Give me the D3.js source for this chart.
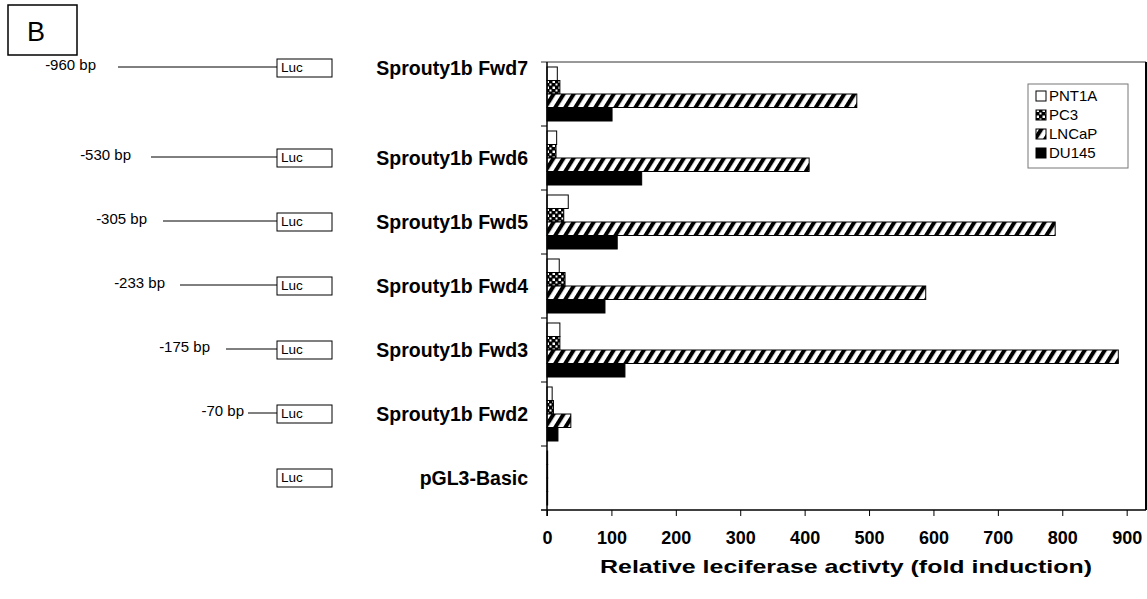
<!DOCTYPE html>
<html>
<head>
<meta charset="utf-8">
<script src="https://cdn.jsdelivr.net/npm/d3@7"></script>
<style>
  html, body { margin: 0; padding: 0; background: #fff; }
  svg { display: block; }
  text { font-family: Arial, "Liberation Sans", sans-serif; fill: #000; }
</style>
</head>
<body>
<svg id="chart" width="1147" height="599"></svg>
<script>
// Promoter constructs, top to bottom
const constructs = ["Sprouty1b Fwd7", "Sprouty1b Fwd6", "Sprouty1b Fwd5", "Sprouty1b Fwd4",
                    "Sprouty1b Fwd3", "Sprouty1b Fwd2", "pGL3-Basic"];
const promoterLengths = ["-960 bp", "-530 bp", "-305 bp", "-233 bp", "-175 bp", "-70 bp", ""];

// Cell lines and their fold induction for each construct
const cellLines = ["PNT1A", "PC3", "LNCaP", "DU145"];
const pnt1a = [16, 15, 33, 19, 20, 8, 1];
const pc3   = [20, 14, 26, 28, 20, 10, 1];
const lncap = [481, 407, 789, 588, 887, 37, 1];
const du145 = [101, 147, 109, 90, 121, 17, 1];
const xTicks = [0, 100, 200, 300, 400, 500, 600, 700, 800, 900];

const seriesValues = [pnt1a, pc3, lncap, du145];

const svg = d3.select("#chart");
const plot = { left: 547, right: 1146, top: 62, bottom: 510 };

// Fill patterns for each cell line
const defs = svg.append("defs");
const checker = defs.append("pattern").attr("id", "pat-pc3")
  .attr("patternUnits", "userSpaceOnUse").attr("width", 6).attr("height", 6);
checker.append("rect").attr("width", 6).attr("height", 6).attr("fill", "#000");
checker.append("rect").attr("x", 0.5).attr("y", 0.5).attr("width", 2.5).attr("height", 2.5).attr("fill", "#fff");
checker.append("rect").attr("x", 3.5).attr("y", 3.5).attr("width", 2).attr("height", 2).attr("fill", "#fff");

const stripes = defs.append("pattern").attr("id", "pat-lncap")
  .attr("patternUnits", "userSpaceOnUse").attr("width", 8.5).attr("height", 8.5)
  .attr("patternTransform", "rotate(32)");
stripes.append("rect").attr("width", 8.5).attr("height", 8.5).attr("fill", "#fff");
stripes.append("rect").attr("width", 4).attr("height", 8.5).attr("fill", "#000");

const fills = ["#fff", "url(#pat-pc3)", "url(#pat-lncap)", "#000"];

// Scales
const x = d3.scaleLinear().domain([0, 930]).range([plot.left, plot.right]);
const y = d3.scaleBand().domain(constructs).range([plot.top, plot.bottom]);
const ySub = d3.scaleBand().domain(cellLines)
  .range([0, y.bandwidth()]).paddingOuter(0.37).paddingInner(0);

// Bars
const groups = svg.append("g").selectAll("g").data(constructs).join("g")
  .attr("transform", d => `translate(0,${y(d)})`);
groups.selectAll("rect")
  .data((d, i) => cellLines.map((c, s) => ({ c, s, v: seriesValues[s][i] })))
  .join("rect")
  .attr("x", x(0))
  .attr("y", d => ySub(d.c))
  .attr("width", d => x(d.v) - x(0))
  .attr("height", ySub.bandwidth())
  .attr("fill", d => fills[d.s])
  .attr("stroke", "#000")
  .attr("stroke-width", 1);

// Frame: top and right edges
svg.append("line").attr("x1", plot.left - 6).attr("x2", plot.right)
  .attr("y1", plot.top).attr("y2", plot.top).attr("stroke", "#333").attr("stroke-width", 1);
svg.append("line").attr("x1", plot.right).attr("x2", plot.right)
  .attr("y1", plot.top).attr("y2", plot.bottom).attr("stroke", "#000").attr("stroke-width", 2);

// Left axis with ticks between categories
const leftAxis = svg.append("g");
leftAxis.append("line").attr("x1", plot.left).attr("x2", plot.left)
  .attr("y1", plot.top).attr("y2", plot.bottom + 6).attr("stroke", "#000").attr("stroke-width", 1.5);
leftAxis.selectAll("line.tick").data(constructs.slice(1)).join("line").attr("class", "tick")
  .attr("x1", plot.left - 6).attr("x2", plot.left)
  .attr("y1", d => y(d)).attr("y2", d => y(d)).attr("stroke", "#000");

// Bottom axis
const xAxis = svg.append("g").attr("transform", `translate(0,${plot.bottom})`)
  .call(d3.axisBottom(x).tickValues(xTicks).tickSize(6).tickPadding(15).tickSizeOuter(0));
xAxis.select(".domain").attr("d", `M${plot.left - 6},0H${plot.right}`).attr("stroke-width", 1.5);
xAxis.selectAll("text").attr("font-size", 18).attr("font-weight", "bold")
  .attr("font-family", "Arial, 'Liberation Sans', sans-serif");

svg.append("text").attr("x", 846).attr("y", 573).attr("text-anchor", "middle")
  .attr("font-size", 19).attr("font-weight", "bold")
  .attr("textLength", 492).attr("lengthAdjust", "spacingAndGlyphs")
  .text("Relative leciferase activty (fold induction)");

// Construct labels
const labelY = constructs.map((d, i) => i === 0 ? 68 : y(d) + y.bandwidth() / 2);
svg.append("g").selectAll("text").data(constructs).join("text")
  .attr("x", 528).attr("y", (d, i) => labelY[i]).attr("dy", "0.36em")
  .attr("text-anchor", "end").attr("font-size", 19.5).attr("font-weight", "bold")
  .text(d => d);

// Promoter diagrams: upstream line + Luc box
const lineStart = [118, 151, 163, 180, 226, 248];
const bpTextEnd = [96, 131, 147, 165, 210, 244];
const diagrams = svg.append("g");
constructs.forEach((d, i) => {
  const cy = labelY[i];
  diagrams.append("rect").attr("x", 277).attr("y", cy - 9).attr("width", 55).attr("height", 18)
    .attr("fill", "#fff").attr("stroke", "#000").attr("stroke-width", 1);
  diagrams.append("text").attr("x", 281).attr("y", cy - 1).attr("dy", "0.35em")
    .attr("font-size", 13.5).text("Luc");
  if (promoterLengths[i]) {
    diagrams.append("line").attr("x1", lineStart[i]).attr("x2", 277)
      .attr("y1", cy - 1).attr("y2", cy - 1).attr("stroke", "#000").attr("stroke-width", 1);
    diagrams.append("text").attr("x", bpTextEnd[i]).attr("y", cy - 3).attr("dy", "0.35em")
      .attr("text-anchor", "end").attr("font-size", 15).text(promoterLengths[i]);
  }
});

// Panel letter
svg.append("rect").attr("x", 8).attr("y", 5).attr("width", 69).attr("height", 50)
  .attr("fill", "none").attr("stroke", "#000").attr("stroke-width", 1.5);
svg.append("text").attr("x", 27).attr("y", 41).attr("font-size", 27)
  .attr("font-family", "'Liberation Serif', 'Times New Roman', serif").text("B");

// Legend
const legend = svg.append("g").attr("transform", "translate(1028,84)");
legend.append("rect").attr("width", 100).attr("height", 84)
  .attr("fill", "#fff").attr("stroke", "#777").attr("stroke-width", 1);
const items = legend.selectAll("g").data(cellLines).join("g")
  .attr("transform", (d, i) => `translate(8,${12 + i * 19})`);
items.append("rect").attr("x", 0).attr("y", -5).attr("width", 10).attr("height", 10)
  .attr("fill", (d, i) => fills[i]).attr("stroke", "#000");
items.append("text").attr("x", 13).attr("y", 0).attr("dy", "0.36em")
  .attr("font-size", 15).text(d => d);
</script>
</body>
</html>
